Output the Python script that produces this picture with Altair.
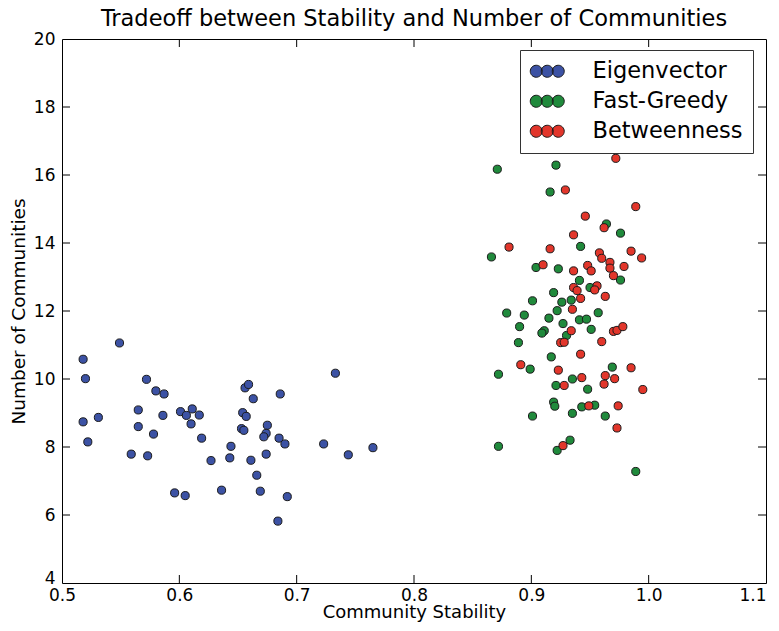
import altair as alt
import pandas as pd

# ---- data ----
eig_x = [0.518, 0.520, 0.518, 0.522, 0.531, 0.549, 0.559, 0.572, 0.565, 0.565,
         0.573, 0.580, 0.587, 0.578, 0.586, 0.596, 0.601, 0.606, 0.611, 0.617,
         0.610, 0.605, 0.619, 0.627, 0.636, 0.644, 0.643, 0.654, 0.657, 0.653,
         0.655, 0.656, 0.659, 0.663, 0.661, 0.666, 0.669, 0.675, 0.674, 0.672,
         0.674, 0.686, 0.685, 0.690, 0.692, 0.684, 0.723, 0.733, 0.744, 0.765]
eig_y = [10.58, 10.01, 8.74, 8.15, 8.87, 11.06, 7.79, 9.99, 9.09, 8.60,
         7.74, 9.65, 9.56, 8.38, 8.93, 6.65, 9.04, 8.93, 9.12, 8.94,
         8.68, 6.57, 8.26, 7.60, 6.73, 8.02, 7.68, 9.01, 8.90, 8.54,
         8.49, 9.74, 9.84, 9.42, 7.61, 7.17, 6.70, 8.64, 8.40, 8.30,
         7.79, 9.56, 8.26, 8.09, 6.54, 5.82, 8.09, 10.17, 7.77, 7.98]

fg_x = [0.871, 0.921, 0.916, 0.964, 0.976, 0.866, 0.942, 0.904, 0.923, 0.941,
        0.950, 0.976, 0.919, 0.901, 0.926, 0.934, 0.879, 0.894, 0.922, 0.957,
        0.890, 0.915, 0.927, 0.941, 0.947, 0.951, 0.911, 0.909, 0.930, 0.889,
        0.917, 0.899, 0.872, 0.969, 0.921, 0.935, 0.948, 0.919, 0.920, 0.943,
        0.954, 0.901, 0.935, 0.963, 0.933, 0.922, 0.872, 0.989]
fg_y = [16.17, 16.29, 15.50, 14.56, 14.29, 13.59, 13.90, 13.28, 13.24, 12.90,
        12.69, 12.91, 12.54, 12.30, 12.26, 12.32, 11.94, 11.88, 12.01, 11.95,
        11.54, 11.79, 11.63, 11.74, 11.76, 11.46, 11.42, 11.35, 11.28, 11.07,
        10.65, 10.29, 10.14, 10.35, 9.81, 10.00, 9.70, 9.32, 9.20, 9.18,
        9.23, 8.91, 8.99, 8.91, 8.20, 7.90, 8.02, 7.28]

bt_x = [0.972, 0.929, 0.989, 0.946, 0.962, 0.881, 0.916, 0.936, 0.958, 0.960,
        0.967, 0.967, 0.985, 0.994, 0.979, 0.970, 0.910, 0.936, 0.948, 0.951,
        0.936, 0.939, 0.956, 0.954, 0.942, 0.963, 0.935, 0.934, 0.970, 0.973,
        0.978, 0.925, 0.928, 0.960, 0.942, 0.891, 0.923, 0.928, 0.943, 0.963,
        0.962, 0.971, 0.985, 0.995, 0.949, 0.974, 0.973, 0.927]
bt_y = [16.49, 15.56, 15.07, 14.79, 14.45, 13.88, 13.83, 14.24, 13.71, 13.55,
        13.43, 13.26, 13.76, 13.56, 13.31, 13.04, 13.36, 13.18, 13.34, 13.18,
        12.69, 12.60, 12.74, 12.62, 12.37, 12.43, 12.05, 11.42, 11.40, 11.43,
        11.54, 11.07, 11.08, 11.10, 10.73, 10.42, 10.26, 9.81, 10.04, 10.10,
        9.85, 10.01, 10.33, 9.69, 9.21, 9.21, 8.56, 8.04]

series = ["Eigenvector", "Fast-Greedy", "Betweenness"]
colors = ["#3c52a4", "#208a3c", "#e2362b"]

x_ticks = [0.5, 0.6, 0.7, 0.8, 0.9, 1.0, 1.1]
y_ticks = [4, 6, 8, 10, 12, 14, 16, 18, 20]
x_dom = [0.5, 1.1]
y_dom = [4, 20]

# ---- build tables ----
rows = []
for name, xs, ys in zip(series, [eig_x, fg_x, bt_x], [eig_y, fg_y, bt_y]):
    for a, b in zip(xs, ys):
        rows.append({"method": name, "stability": a, "communities": b})
df = pd.DataFrame(rows)

W, H = 704, 544
TICK_PX = 8
dx = TICK_PX * (x_dom[1] - x_dom[0]) / W
dy = TICK_PX * (y_dom[1] - y_dom[0]) / H

xt = pd.DataFrame({"v": x_ticks[1:-1]})
yt = pd.DataFrame({"v": y_ticks[1:-1]})

xscale = alt.Scale(domain=x_dom, nice=False, zero=False)
yscale = alt.Scale(domain=y_dom, nice=False, zero=False)

xaxis = alt.Axis(values=x_ticks, format=".1f", labelPadding=4, titlePadding=0,
                 labelFontSize=17, titleFontSize=18,
                 labelFlush=False, labelOverlap=False,
                 labelAlign={"condition": {"test": "datum.value > 1.05", "value": "right"},
                             "value": "center"})
yaxis = alt.Axis(values=y_ticks, format="d", labelPadding=7, titlePadding=5,
                 labelFlush=False, labelOverlap=False,
                 labelBaseline={"condition": {"test": "datum.value < 4.5", "value": "alphabetic"},
                                "value": "middle"})

# legend symbol: three overlapping circles (matplotlib scatterpoints look)
def circ(cx, r):
    k = round(0.5523 * r, 4)
    return (f"M{cx + r},0C{cx + r},{k} {cx + k},{r} {cx},{r}"
            f"C{cx - k},{r} {cx - r},{k} {cx - r},0"
            f"C{cx - r},{-k} {cx - k},{-r} {cx},{-r}"
            f"C{cx + k},{-r} {cx + r},{-k} {cx + r},0Z")

sym = circ(-0.5, 0.6) + circ(0.6, 0.6) + circ(1.7, 0.6)

tick_style = dict(color="black", strokeWidth=1)

bottom = alt.Chart(xt).mark_rule(**tick_style).encode(
    x=alt.X("v:Q", scale=xscale), y=alt.datum(y_dom[0]), y2=alt.datum(y_dom[0] + dy))
top = alt.Chart(xt).mark_rule(**tick_style).encode(
    x=alt.X("v:Q", scale=xscale), y=alt.datum(y_dom[1]), y2=alt.datum(y_dom[1] - dy))
left = alt.Chart(yt).mark_rule(**tick_style).encode(
    y=alt.Y("v:Q", scale=yscale), x=alt.datum(x_dom[0]), x2=alt.datum(x_dom[0] + dx))
right = alt.Chart(yt).mark_rule(**tick_style).encode(
    y=alt.Y("v:Q", scale=yscale), x=alt.datum(x_dom[1]), x2=alt.datum(x_dom[1] - dx))

points = alt.Chart(df).mark_circle(size=66, opacity=1, stroke="#1a1a1a", strokeWidth=1).encode(
    x=alt.X("stability:Q", title="Community Stability", scale=xscale, axis=xaxis),
    y=alt.Y("communities:Q", title="Number of Communities", scale=yscale, axis=yaxis),
    color=alt.Color("method:N", scale=alt.Scale(domain=series, range=colors),
                    sort=series,
                    legend=alt.Legend(title=None, orient="none", legendX=458, legendY=11,
                                      symbolType=sym, symbolSize=400,
                                      symbolStrokeColor="#1a1a1a", symbolStrokeWidth=1,
                                      symbolOpacity=1,
                                      labelFontSize=22.5, labelFont="DejaVu Sans",
                                      labelColor="black", labelOffset=40,
                                      rowPadding=7, padding=10,
                                      strokeColor="#333333", fillColor="white")),
    order=alt.Order("ord:Q"),
).transform_calculate(
    ord="indexof(['Eigenvector','Fast-Greedy','Betweenness'], datum.method)"
)

chart = alt.layer(points, bottom, top, left, right).properties(
    width=W, height=H,
    title=alt.Title("Tradeoff between Stability and Number of Communities",
                    fontSize=22.5, font="DejaVu Sans", fontWeight="normal",
                    color="black", offset=0),
    padding={"left": 54, "top": 31, "right": 5, "bottom": 41},
    autosize=alt.AutoSizeParams(type="none"),
).configure_view(
    stroke="black", strokeWidth=1
).configure_axis(
    grid=False, domain=False, ticks=False, tickSize=0,
    labelFont="DejaVu Sans", labelFontSize=17, labelColor="black",
    titleFont="DejaVu Sans", titleFontSize=18.5, titleFontWeight="normal", titleColor="black",
)

chart.save("out.html", embed_options={"renderer": "svg", "actions": False})
